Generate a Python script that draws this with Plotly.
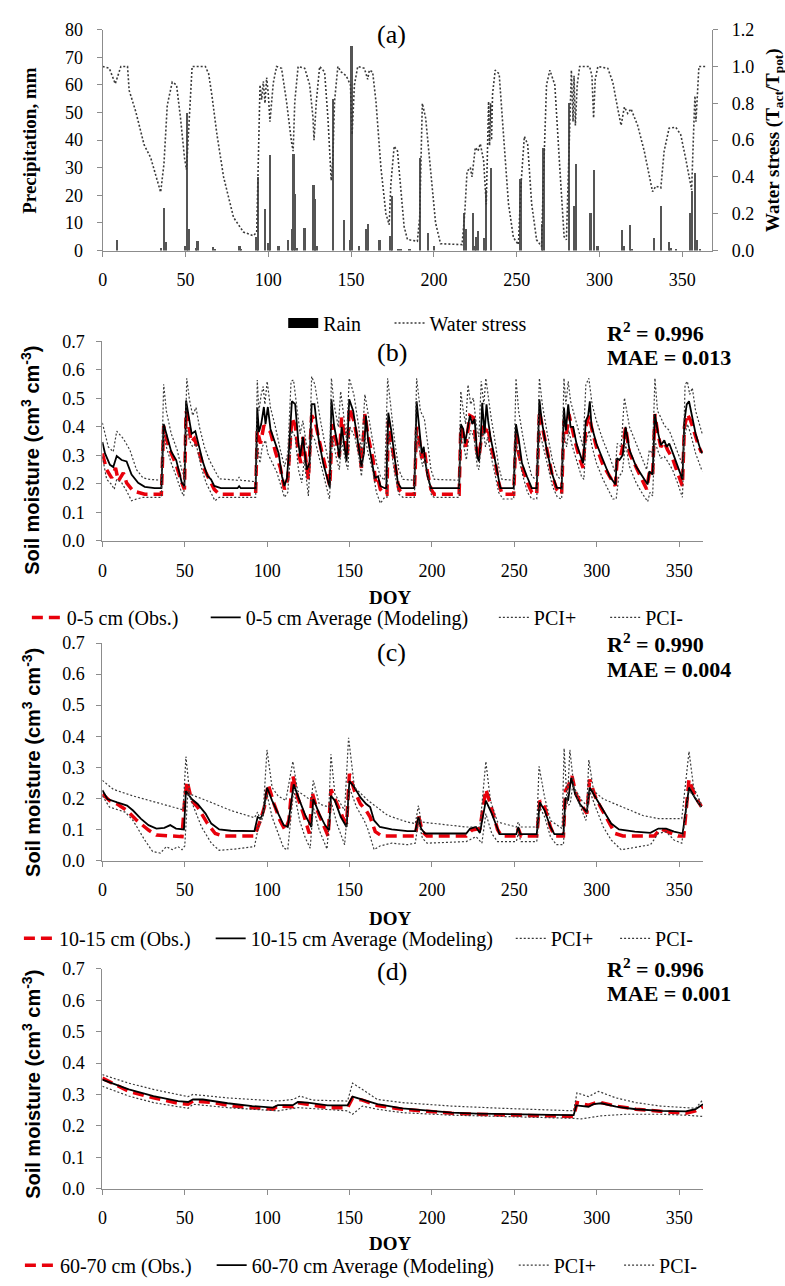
import plotly.graph_objects as go

W, H = 785, 1286

# ---------------- Panel (a) ----------------
rain_day = [8.6, 35, 37, 38, 49.5, 50.6, 51.6, 56, 57, 66.6, 67.6, 82.4, 83.4, 92.6, 93.6, 97.8, 100, 101,
            106, 111.6, 114, 115, 116, 117, 121.6, 127, 128, 129, 139, 145.4, 149, 150, 154.4, 159, 160,
            167, 173.6, 174.4, 178, 179.6, 185, 191.4, 196.2, 200, 218, 219, 223.4, 224.4, 225.4, 226.4,
            230.4, 231.4, 234.4, 252, 265, 266, 281.4, 284.4, 285.4, 294.4, 296.4, 298.6, 313.4, 314.4,
            318, 319, 332.6, 337, 341.6, 342.6, 346, 354.4, 355.6, 357.6, 358.6, 360.6]
rain_mm = [4.1, 1.0, 15.5, 3.2, 1.6, 50, 7.9, 1.0, 3.5, 1.5, 0.8, 1.6, 0.8, 5.0, 26.8, 15.1, 2.8, 34.6,
           1.9, 4.1, 8.0, 35.1, 20.6, 1.0, 8.2, 23.9, 18.7, 1.9, 54.9, 11.3, 4.1, 74.1, 1.6, 8.0, 9.8,
           4.1, 5.3, 20.0, 0.5, 0.5, 0.8, 33.7, 6.3, 1.8, 13.7, 8.0, 13.7, 1.8, 4.9, 7.2,
           4.6, 22, 30.1, 26.2, 9.6, 37.3, 53.5, 16.4, 31.5, 13.7, 29.3, 1.9, 7.7, 1.9,
           9.2, 0.8, 4.7, 16.4, 3.3, 1.0, 0.7, 13.6, 21.7, 28.3, 4.1, 0.7]

ws_day = [0, 4, 7.6, 11, 15, 16, 20, 25, 29, 35, 37, 39, 42, 44.6, 47, 49.4, 50.6, 52, 54, 62, 64, 66, 69,
          73, 79, 85, 91, 93, 95, 96, 97, 98, 99, 100, 101, 103, 105, 108, 111, 114, 115, 116, 118, 122,
          125, 127, 127.6, 129, 131, 134, 136, 138, 139, 140, 142, 144, 147, 149.6, 150.6, 152, 154, 158,
          160, 161, 163, 165, 168, 171, 173, 174, 176, 178, 180, 182, 184, 190, 191.4, 193, 195, 198, 201,
          204, 217, 218.6, 220, 222, 223, 225, 226.6, 228, 230, 231.6, 233, 233.6, 234.2, 234.8, 235.4,
          237, 239.4, 242, 245, 248, 251, 252.6, 254.6, 256.6, 259, 262, 265, 266, 268, 270, 273, 276,
          278.6, 280, 281, 282, 283, 284, 284.6, 285.4, 286.5, 288, 294, 295.4, 296.4, 297.4, 299, 305,
          308, 311, 313, 315, 317, 319, 323, 327, 330, 332, 334, 337, 339, 342, 346, 349, 352, 354,
          355.6, 357, 357.6, 358.2, 358.8, 360, 364]
ws_val = [1.0, 0.99, 0.906, 1.0, 1.0, 0.87, 0.754, 0.575, 0.504, 0.317, 0.47, 0.79, 0.915, 0.9, 0.72,
          0.504, 0.44, 0.66, 1.0, 1.0, 0.96, 0.84, 0.63, 0.40, 0.18, 0.10, 0.08, 0.10, 0.90, 0.82, 0.92,
          0.80, 0.94, 0.85, 0.70, 0.91, 1.0, 0.99, 0.81, 0.59, 0.54, 0.81, 1.0, 0.99, 0.9, 0.72, 0.6,
          0.81, 1.0, 0.97, 0.72, 0.38, 0.50, 0.81, 1.0, 0.97, 0.95, 0.9, 0.63, 0.9, 1.0, 0.99, 0.93,
          0.98, 0.97, 0.81, 0.45, 0.20, 0.14, 0.36, 0.567, 0.54, 0.33, 0.13, 0.06, 0.05, 0.18, 0.80,
          0.72, 0.45, 0.15, 0.037, 0.032, 0.20, 0.43, 0.45, 0.40, 0.56, 0.54, 0.58, 0.49, 0.25, 0.81,
          0.57, 0.80, 0.6, 0.85, 0.98, 0.96, 0.63, 0.255, 0.07, 0.032, 0.36, 0.62, 0.577, 0.255, 0.058,
          0.022, 0.36, 0.9, 0.98, 0.9, 0.45, 0.075, 0.058, 0.36, 0.72, 0.98, 0.70, 0.95, 0.68, 0.9, 1.0,
          1.0, 0.95, 0.72, 0.93, 1.0, 0.99, 0.915, 0.77, 0.68, 0.78, 0.745, 0.77, 0.68, 0.54, 0.40,
          0.32, 0.35, 0.34, 0.54, 0.665, 0.67, 0.63, 0.50, 0.40, 0.33, 0.70, 0.84, 0.70, 0.82, 1.0, 1.0]

# ---------------- Panel (b) 0-5 cm ----------------
b_mod_day = [0, 1.6, 4.6, 6.6, 8.7, 11.7, 14.7, 17.7, 21.7, 25.7, 31.7, 35.8, 37.2, 38.8, 41.8, 44.8,
             48.2, 49.8, 50.8, 52.8, 54.2, 56.4, 57.8, 60.9, 63.9, 65.9, 67.9, 71.9, 82, 83, 84, 93, 94,
             95, 96.4, 98, 99, 100.4, 102, 105, 107, 109, 110.5, 112, 113, 115, 117, 119, 120, 121.7,
             124, 125.7, 127, 128.7, 131, 134, 137, 138, 139, 140.6, 142.6, 143.8, 145.2, 146.6, 148.2,
             149.8, 152.2, 155.2, 157.2, 158.7, 159.9, 161.3, 163.3, 165.3, 167.3, 168.7, 171.3, 172.3,
             173.5, 175.3, 177.3, 179.3, 181.3, 189.3, 190.7, 192.4, 193.8, 195, 195.8, 197.4, 199.4,
             216.5, 217.5, 219, 220, 221.5, 223, 224.5, 225.9, 227.5, 228.5, 229.5, 230.5, 231.9, 233.1,
             234.1, 235.5, 237.5, 239.5, 241.5, 249.6, 251, 252.6, 254.6, 257.6, 260.6, 263.6, 265.2,
             266.6, 269.7, 272.7, 275.7, 278.7, 280.1, 281.3, 282.7, 284.1, 285.7, 287.7, 289.7, 291.7,
             293.4, 294.8, 295.8, 296.8, 299.8, 303.8, 307.8, 311.4, 312.2, 313.8, 315.8, 317.5, 319.9,
             323.9, 327.9, 330.9, 331.9, 333.9, 335.3, 336.9, 338.9, 341, 342.4, 344, 347, 350, 352,
             353.2, 354.6, 356, 358, 360, 363, 364]
b_mod = [0.347, 0.307, 0.267, 0.259, 0.298, 0.284, 0.279, 0.233, 0.204, 0.19, 0.185, 0.185, 0.41, 0.376,
         0.313, 0.284, 0.204, 0.193, 0.493, 0.422, 0.376, 0.385, 0.353, 0.279, 0.227, 0.216, 0.193, 0.185,
         0.185, 0.192, 0.185, 0.185, 0.468, 0.382, 0.41, 0.47, 0.41, 0.47, 0.393, 0.342, 0.307, 0.227,
         0.193, 0.221, 0.296, 0.49, 0.48, 0.342, 0.296, 0.365, 0.25, 0.273, 0.48, 0.48, 0.365, 0.273,
         0.204, 0.187, 0.497, 0.405, 0.342, 0.29, 0.4, 0.342, 0.279, 0.497, 0.456, 0.342, 0.261, 0.307,
         0.44, 0.353, 0.284, 0.221, 0.227, 0.193, 0.185, 0.185, 0.45, 0.388, 0.296, 0.204, 0.185, 0.185,
         0.49, 0.4, 0.307, 0.33, 0.284, 0.227, 0.185, 0.185, 0.41, 0.393, 0.342, 0.388, 0.44, 0.41, 0.428,
         0.296, 0.279, 0.342, 0.485, 0.376, 0.479, 0.422, 0.365, 0.307, 0.25, 0.185, 0.185, 0.41, 0.359,
         0.273, 0.227, 0.185, 0.185, 0.497, 0.422, 0.319, 0.239, 0.187, 0.185, 0.468, 0.388, 0.479, 0.4,
         0.4, 0.342, 0.307, 0.273, 0.422, 0.44, 0.49, 0.405, 0.342, 0.284, 0.227, 0.198, 0.29, 0.284,
         0.302, 0.4, 0.319, 0.261, 0.227, 0.198, 0.244, 0.233, 0.445, 0.388, 0.336, 0.353, 0.33, 0.342,
         0.296, 0.25, 0.216, 0.422, 0.479, 0.49, 0.433, 0.376, 0.319, 0.307]

b_obs_day = [0, 2.6, 5.6, 8, 9.7, 12.7, 14.7, 18.7, 25.7, 35.8, 37.2, 38.8, 41.8, 44.8, 48.2, 49.8, 50.8,
             52.2, 53.8, 55.8, 58.9, 61.9, 64.9, 67.9, 70.9, 93, 94, 96, 98, 100, 102, 105, 108, 110.5,
             112.5, 115, 117, 119, 120.5, 121.7, 125, 127, 129, 132, 135, 138, 139.6, 141.8, 143.8,
             145.2, 147.2, 148.6, 149.8, 152.6, 155.6, 157.2, 159.3, 161.3, 164.3, 165.9, 167.3, 168.7,
             171.3, 172.7, 173.5, 175.3, 177.3, 179.9, 182.4, 189.3, 190.7, 192.4, 193.8, 195.4, 197,
             199.4, 201.4, 216.5, 217.5, 219, 220.5, 221.9, 223, 225.1, 227.1, 228.5, 229.9, 231.1,
             232.5, 233.9, 235.9, 238.5, 240.5, 242.5, 249.6, 251, 252.6, 255.2, 258, 260.6, 263.6,
             265.2, 267, 270, 273.1, 275.7, 278.7, 280.1, 281.7, 283.1, 284.7, 286.7, 289.3, 291.7,
             293.4, 295.4, 297.2, 299.8, 303.8, 307.8, 311.2, 312.4, 314.2, 316.2, 317.5, 319.9, 323.9,
             327.5, 330.3, 331.9, 333.9, 335.3, 336.9, 338.9, 341, 343, 346, 349, 352, 353.2, 355, 357,
             359, 362, 363.6]
b_obs = [0.307, 0.25, 0.221, 0.256, 0.21, 0.239, 0.204, 0.175, 0.164, 0.164, 0.404, 0.358, 0.307, 0.267,
         0.204, 0.181, 0.456, 0.422, 0.347, 0.359, 0.307, 0.25, 0.216, 0.181, 0.164, 0.164, 0.388, 0.342,
         0.405, 0.393, 0.382, 0.313, 0.256, 0.181, 0.216, 0.433, 0.405, 0.307, 0.273, 0.365, 0.216, 0.44,
         0.422, 0.342, 0.261, 0.193, 0.41, 0.342, 0.296, 0.433, 0.342, 0.296, 0.468, 0.422, 0.33, 0.256,
         0.445, 0.365, 0.284, 0.204, 0.216, 0.181, 0.164, 0.164, 0.422, 0.353, 0.273, 0.181, 0.164,
         0.164, 0.4, 0.353, 0.29, 0.319, 0.25, 0.181, 0.164, 0.164, 0.4, 0.376, 0.33, 0.382, 0.44, 0.433,
         0.319, 0.29, 0.365, 0.416, 0.382, 0.4, 0.33, 0.273, 0.204, 0.164, 0.164, 0.376, 0.307, 0.25,
         0.204, 0.17, 0.164, 0.456, 0.4, 0.307, 0.227, 0.181, 0.164, 0.422, 0.376, 0.445, 0.4, 0.353,
         0.296, 0.256, 0.4, 0.44, 0.388, 0.33, 0.267, 0.227, 0.193, 0.284, 0.29, 0.342, 0.4, 0.307,
         0.256, 0.216, 0.181, 0.239, 0.227, 0.445, 0.382, 0.33, 0.347, 0.319, 0.29, 0.239, 0.193, 0.4,
         0.445, 0.422, 0.382, 0.33, 0.31]

b_pp_day = [0, 3.6, 6.6, 8.7, 12.7, 16.7, 20.7, 24.7, 28.7, 35.8, 37.2, 38.8, 41.8, 45.4, 48.2, 49.8,
            51.2, 52.8, 54.8, 56.8, 58.9, 61.9, 64.9, 67.9, 70.9, 82, 83, 84, 93, 94, 95, 96.4, 97.6,
            98.6, 100, 102, 105, 108, 110.5, 112.5, 114.5, 116, 119, 120, 121.7, 124, 125.7, 127, 129,
            132, 135, 137.8, 139, 140.6, 143.2, 144.6, 146.6, 148.2, 149.8, 152.6, 155.6, 157.2, 159.3,
            161.3, 164.3, 166.3, 168.7, 171.3, 173.1, 175.3, 177.3, 179.9, 182.4, 189.3, 190.7, 193,
            195.4, 197.4, 199.4, 201.4, 216.5, 217.5, 219, 220.5, 221.9, 223.5, 225.1, 227.1, 228.5,
            229.9, 231.5, 232.7, 234.1, 235.9, 238.5, 240.5, 242.5, 249.6, 251, 252.6, 255.2, 258,
            260.6, 263.6, 265.2, 267, 270, 273.1, 276.1, 278.7, 280.1, 281.3, 282.7, 284.1, 285.7,
            288.7, 291.7, 293.4, 295.2, 297.2, 299.8, 303.8, 307.8, 311.2, 312.4, 314.8, 316.8, 319.9,
            323.9, 327.9, 330.3, 331.9, 333.9, 335.3, 336.9, 338.9, 341, 344, 347, 350, 352.4, 353.6,
            355, 356.4, 358, 360, 364]
b_pp = [0.414, 0.33, 0.313, 0.385, 0.359, 0.319, 0.25, 0.221, 0.216, 0.213, 0.55, 0.456, 0.376, 0.319,
        0.25, 0.221, 0.571, 0.497, 0.44, 0.468, 0.4, 0.33, 0.284, 0.25, 0.218, 0.213, 0.224, 0.213, 0.208,
        0.565, 0.456, 0.514, 0.542, 0.479, 0.56, 0.468, 0.4, 0.319, 0.261, 0.307, 0.56, 0.565, 0.433,
        0.376, 0.422, 0.33, 0.319, 0.577, 0.548, 0.433, 0.342, 0.261, 0.571, 0.479, 0.4, 0.525, 0.433,
        0.353, 0.571, 0.514, 0.4, 0.307, 0.514, 0.445, 0.353, 0.273, 0.227, 0.213, 0.571, 0.456, 0.353,
        0.25, 0.216, 0.213, 0.571, 0.456, 0.428, 0.342, 0.25, 0.216, 0.213, 0.525, 0.456, 0.41, 0.548,
        0.479, 0.502, 0.4, 0.365, 0.56, 0.479, 0.571, 0.502, 0.433, 0.342, 0.261, 0.216, 0.213, 0.571,
        0.456, 0.365, 0.284, 0.227, 0.213, 0.571, 0.479, 0.376, 0.284, 0.227, 0.213, 0.571, 0.479, 0.56,
        0.491, 0.456, 0.388, 0.33, 0.548, 0.571, 0.479, 0.422, 0.353, 0.296, 0.239, 0.342, 0.33, 0.502,
        0.4, 0.342, 0.284, 0.25, 0.319, 0.307, 0.571, 0.456, 0.433, 0.405, 0.388, 0.342, 0.296, 0.261,
        0.548, 0.56, 0.514, 0.537, 0.456, 0.376]

b_pm_day = [0, 2.6, 5.6, 7.2, 8.7, 11.7, 14.7, 17.7, 20.7, 24.7, 35.8, 37.2, 38.8, 41.8, 44.8, 47.8,
            49.4, 50.8, 52.8, 54.8, 56.8, 59.9, 62.9, 65.9, 68.3, 70.9, 93, 94, 95.6, 97, 99, 100.4, 103,
            106, 109, 110.5, 112.5, 115, 117, 119, 121, 122.5, 125, 127, 129, 132, 135, 137.8, 139.6,
            141.8, 143.8, 145.2, 147.8, 149, 150.2, 153.2, 155.6, 157.2, 159.3, 161.3, 164.3, 166.3,
            168.7, 171.3, 172.7, 173.5, 175.3, 177.3, 179.9, 182.4, 189.3, 190.7, 192.4, 194.4, 195.8,
            197.8, 199.8, 201.4, 216.5, 217.5, 219, 220.9, 221.9, 223.5, 225.5, 227.5, 228.5, 229.9,
            231.1, 232.5, 233.9, 235.9, 238.5, 240.5, 243.1, 249.6, 251, 252.6, 255.2, 258, 260.6,
            263.6, 265.2, 267, 270, 273.1, 276.1, 278.7, 280.1, 281.7, 283.1, 284.7, 287.7, 290.7,
            292.2, 293.4, 295.4, 297.2, 299.8, 303.8, 307.8, 309.8, 311.8, 313.4, 315.4, 317.5, 319.9,
            323.9, 327.9, 330.9, 332.3, 333.9, 335.3, 336.9, 338.9, 341, 343, 346, 349, 352, 353.2, 355,
            357, 360, 364]
b_pm = [0.296, 0.216, 0.198, 0.181, 0.216, 0.204, 0.175, 0.141, 0.147, 0.153, 0.153, 0.376, 0.33, 0.273,
        0.227, 0.175, 0.158, 0.4, 0.353, 0.33, 0.342, 0.261, 0.204, 0.17, 0.141, 0.153, 0.153, 0.342,
        0.273, 0.33, 0.353, 0.307, 0.273, 0.239, 0.181, 0.153, 0.17, 0.388, 0.365, 0.25, 0.204, 0.284,
        0.158, 0.376, 0.353, 0.284, 0.216, 0.147, 0.365, 0.296, 0.25, 0.353, 0.273, 0.25, 0.4, 0.365,
        0.296, 0.227, 0.365, 0.307, 0.239, 0.17, 0.132, 0.153, 0.153, 0.388, 0.319, 0.239, 0.164, 0.153,
        0.153, 0.388, 0.319, 0.261, 0.296, 0.216, 0.158, 0.153, 0.153, 0.365, 0.342, 0.284, 0.342, 0.388,
        0.365, 0.261, 0.25, 0.342, 0.388, 0.33, 0.365, 0.296, 0.227, 0.17, 0.147, 0.147, 0.353, 0.296,
        0.227, 0.17, 0.147, 0.147, 0.388, 0.342, 0.261, 0.193, 0.153, 0.147, 0.376, 0.33, 0.388, 0.342,
        0.284, 0.227, 0.216, 0.342, 0.388, 0.33, 0.273, 0.216, 0.17, 0.147, 0.147, 0.227, 0.239, 0.342,
        0.261, 0.204, 0.164, 0.138, 0.17, 0.158, 0.353, 0.319, 0.29, 0.296, 0.279, 0.25, 0.204, 0.153,
        0.365, 0.41, 0.376, 0.307, 0.244]

# ---------------- Panel (c) 10-15 cm ----------------
c_mod_day = [0, 3.1, 9, 15, 18.6, 23.3, 28, 32.8, 37.6, 41.2, 44.7, 49.5, 50.7, 54.2, 57.8, 62.6, 66.1,
             70.9, 78, 92.3, 94.2, 95.9, 97.5, 99.9, 103, 106.6, 110, 112.5, 116.1, 119.7, 123.2, 126.8,
             128, 131.6, 135.1, 137.5, 138.7, 141.1, 144.7, 148.2, 149.9, 153, 156.6, 160.1, 162.5,
             164.9, 168.4, 175.6, 185.1, 189.9, 191.8, 193.4, 195.8, 220.8, 223.2, 226.7, 229.1, 232.7,
             236.3, 239.8, 241, 251.2, 252.4, 253.6, 263.6, 265.5, 268.4, 271.9, 274.3, 279.8, 281,
             282.6, 284.5, 286.9, 289.8, 294, 295.7, 299.3, 304, 308.8, 313.5, 323.1, 332.6, 337.4,
             342.1, 346.9, 352.1, 356, 360, 363.5]
c_mod = [0.226, 0.198, 0.187, 0.177, 0.161, 0.135, 0.114, 0.103, 0.105, 0.114, 0.103, 0.1, 0.224, 0.198,
         0.182, 0.151, 0.119, 0.1, 0.096, 0.095, 0.14, 0.135, 0.151, 0.235, 0.193, 0.151, 0.114, 0.108,
         0.245, 0.193, 0.145, 0.108, 0.198, 0.151, 0.114, 0.098, 0.208, 0.193, 0.14, 0.108, 0.256, 0.235,
         0.203, 0.182, 0.172, 0.129, 0.108, 0.1, 0.095, 0.095, 0.14, 0.103, 0.087, 0.087, 0.103, 0.108,
         0.089, 0.193, 0.151, 0.103, 0.085, 0.085, 0.108, 0.085, 0.085, 0.187, 0.161, 0.108, 0.085, 0.085,
         0.203, 0.193, 0.266, 0.214, 0.182, 0.156, 0.235, 0.203, 0.161, 0.119, 0.1, 0.093, 0.089, 0.103,
         0.103, 0.093, 0.087, 0.235, 0.198, 0.172]

c_obs_day = [0, 4.3, 9, 15, 20.9, 28, 32.8, 48.3, 50, 51.4, 54.2, 57.8, 63.8, 68.5, 73.3, 92.3, 95.9,
             98.3, 100.6, 104.2, 107.8, 110.9, 113.2, 115.6, 118.5, 122, 125.6, 127.3, 130.4, 134, 137,
             138.7, 142.3, 145.8, 148.2, 149.9, 153, 156.6, 160.1, 162.5, 165.6, 169.6, 189.9, 191.8,
             194.2, 197, 220.8, 224.3, 229.1, 232.7, 235.5, 239.8, 242.2, 251.2, 252.4, 254.1, 263.6,
             265.5, 268.4, 271.9, 274.3, 279.8, 281, 283.1, 285, 287.4, 291, 294, 295.7, 299.3, 302.9,
             307.6, 311.2, 315.9, 335, 338.6, 343.3, 349.3, 352.8, 356, 360, 363.5]
c_obs = [0.214, 0.193, 0.182, 0.161, 0.129, 0.098, 0.082, 0.077, 0.198, 0.256, 0.193, 0.172, 0.119, 0.087,
         0.079, 0.079, 0.129, 0.172, 0.245, 0.182, 0.129, 0.098, 0.129, 0.272, 0.203, 0.151, 0.087, 0.219,
         0.161, 0.114, 0.079, 0.229, 0.182, 0.14, 0.119, 0.279, 0.224, 0.182, 0.161, 0.14, 0.093, 0.079,
         0.079, 0.145, 0.093, 0.079, 0.079, 0.098, 0.103, 0.229, 0.182, 0.1, 0.079, 0.079, 0.103, 0.079,
         0.079, 0.193, 0.172, 0.108, 0.079, 0.079, 0.224, 0.245, 0.272, 0.214, 0.177, 0.151, 0.261, 0.203,
         0.166, 0.119, 0.087, 0.079, 0.079, 0.103, 0.093, 0.079, 0.079, 0.261, 0.203, 0.174]

c_pp_day = [0, 6.7, 18.6, 30.5, 42.4, 49, 50.7, 53, 66.1, 78, 92.3, 94.2, 95.9, 97.5, 99.9, 103, 106.6,
            111.3, 115.6, 118.5, 126.8, 128, 131.6, 137.5, 138.7, 141.1, 147, 149.4, 153, 161.3, 173.2,
            185.1, 189.9, 191.8, 193.4, 208.9, 220.8, 229.1, 232.7, 235.5, 239.8, 251.2, 252.4, 253.6,
            263.6, 265, 268.4, 271.9, 279, 280.2, 282.1, 283.7, 286.2, 291, 294, 295.2, 298.1, 304,
            315.9, 327.9, 337.4, 351.6, 356, 358.8, 363.5]
c_pp = [0.258, 0.229, 0.208, 0.191, 0.174, 0.163, 0.335, 0.214, 0.187, 0.161, 0.138, 0.156, 0.129, 0.151,
        0.356, 0.235, 0.208, 0.193, 0.319, 0.224, 0.193, 0.258, 0.182, 0.172, 0.342, 0.214, 0.161, 0.395,
        0.235, 0.193, 0.145, 0.124, 0.119, 0.177, 0.124, 0.114, 0.108, 0.108, 0.319, 0.193, 0.124, 0.108,
        0.124, 0.108, 0.108, 0.303, 0.203, 0.129, 0.103, 0.361, 0.182, 0.356, 0.235, 0.193, 0.177, 0.324,
        0.224, 0.198, 0.172, 0.145, 0.135, 0.135, 0.351, 0.235, 0.182]

c_pm_day = [0, 4.3, 13.8, 18.6, 25.7, 30.5, 35.2, 38.8, 42.4, 45.9, 48.3, 50, 51.9, 55.4, 60.2, 66.1,
            70.9, 80.4, 92.3, 94.7, 97.5, 99.9, 103, 106.6, 110, 112.5, 116.1, 119.7, 123.2, 126.1, 128,
            131.6, 136.3, 138.7, 142.3, 147, 149.9, 154.2, 158.9, 161.3, 164.9, 168.4, 175.6, 185.1,
            189.9, 191.8, 194.2, 197, 220.8, 226.7, 230.3, 232.7, 236.3, 239.8, 251.2, 252.4, 254.1,
            263.6, 265.5, 268.4, 271.9, 275.5, 279.8, 281, 283.9, 285.5, 288.6, 293.4, 295.7, 299.3,
            304, 308.8, 314.8, 320.7, 332.6, 337.4, 342.1, 346.9, 351.6, 356, 360, 363.5]
c_pm = [0.208, 0.172, 0.156, 0.129, 0.066, 0.029, 0.024, 0.045, 0.035, 0.045, 0.035, 0.047, 0.224, 0.172,
        0.108, 0.056, 0.033, 0.037, 0.045, 0.108, 0.14, 0.214, 0.14, 0.087, 0.04, 0.035, 0.229, 0.129,
        0.072, 0.04, 0.172, 0.098, 0.037, 0.193, 0.119, 0.051, 0.235, 0.172, 0.129, 0.098, 0.035, 0.047,
        0.056, 0.051, 0.056, 0.129, 0.072, 0.056, 0.061, 0.077, 0.056, 0.151, 0.087, 0.061, 0.061, 0.087,
        0.061, 0.061, 0.172, 0.14, 0.077, 0.051, 0.051, 0.172, 0.182, 0.245, 0.193, 0.129, 0.224, 0.172,
        0.108, 0.066, 0.035, 0.04, 0.051, 0.087, 0.093, 0.066, 0.056, 0.224, 0.203, 0.17]

# ---------------- Panel (d) 60-70 cm ----------------
d_mod_day = [0, 16, 31, 46, 52, 55, 61, 76, 91, 103.5, 106.5, 115.6, 118.6, 124.6, 136.7, 148.8, 151.8,
             157.8, 166.9, 182, 197, 212, 227, 242.3, 272.5, 286, 287.6, 295, 298, 302.7, 311.7, 323.8,
             338.9, 354, 360, 364.5]
d_mod = [0.347, 0.316, 0.295, 0.279, 0.276, 0.284, 0.284, 0.272, 0.263, 0.258, 0.266, 0.266, 0.276, 0.274,
         0.265, 0.265, 0.293, 0.284, 0.269, 0.256, 0.248, 0.242, 0.239, 0.237, 0.235, 0.234, 0.265, 0.261,
         0.269, 0.272, 0.261, 0.253, 0.248, 0.246, 0.253, 0.269]

d_obs_day = [0, 16, 31, 46, 52, 55, 67.3, 79.4, 91, 103.5, 106.5, 115.6, 118.6, 127.6, 136.7, 148.8,
             151.8, 157.8, 166.9, 182, 197, 212, 227, 242.3, 272.5, 286, 288, 295, 301, 311.7, 323.8,
             338.9, 354, 360, 364.5]
d_obs = [0.352, 0.31, 0.289, 0.272, 0.269, 0.279, 0.274, 0.263, 0.258, 0.253, 0.263, 0.261, 0.274, 0.265,
         0.258, 0.258, 0.289, 0.282, 0.265, 0.253, 0.246, 0.24, 0.237, 0.235, 0.232, 0.23, 0.274, 0.266,
         0.276, 0.263, 0.253, 0.246, 0.24, 0.248, 0.261]

d_pp_day = [0, 16, 31, 46, 52, 55, 76, 106.5, 115.6, 120, 127.6, 148.8, 151.8, 157.8, 166.9, 182, 212,
            242.3, 272.5, 286, 288, 295, 301, 311.7, 323.8, 338.9, 360, 364.5]
d_pp = [0.363, 0.336, 0.316, 0.3, 0.293, 0.3, 0.289, 0.279, 0.284, 0.295, 0.282, 0.279, 0.336, 0.316,
        0.284, 0.274, 0.263, 0.256, 0.251, 0.248, 0.305, 0.293, 0.31, 0.289, 0.274, 0.263, 0.256, 0.284]

d_pm_day = [0, 16, 31, 46, 52, 55, 76, 106.5, 118.6, 148.8, 151.8, 157.8, 166.9, 182, 212, 242.3, 272.5,
            286, 290.6, 302.7, 317.8, 338.9, 354, 364.5]
d_pm = [0.326, 0.295, 0.274, 0.261, 0.256, 0.269, 0.258, 0.248, 0.258, 0.248, 0.237, 0.263, 0.253, 0.242,
        0.234, 0.23, 0.227, 0.224, 0.222, 0.232, 0.237, 0.237, 0.234, 0.23]

x_ticks = [0, 50, 100, 150, 200, 250, 300, 350]
stats = [("R<sup>2</sup> = 0.996", "MAE = 0.013"),
         ("R<sup>2</sup> = 0.990", "MAE = 0.004"),
         ("R<sup>2</sup> = 0.996", "MAE = 0.001")]
depths = ["0-5 cm", "10-15 cm", "60-70 cm"]

# ---------------- figure ----------------
SERIF = "Liberation Serif"
SANS = "Liberation Sans"
AX = "#8c8c8c"
RED = "#e8000b"
DOT = "#3a3a3a"
DOTDASH = "2px,2px"
REDDASH = "11px,6px"


def X(px):
    return px / W


def Y(py):
    return 1 - py / H


fig = go.Figure()

# Panel (a)
fig.add_trace(go.Bar(x=rain_day, y=rain_mm, width=1.4, marker=dict(color="#555555", line=dict(width=0)),
                     xaxis="x", yaxis="y", showlegend=False))
fig.add_trace(go.Scatter(x=[None], y=[None], mode="lines", name="Rain",
                         line=dict(color="black", width=11), xaxis="x", yaxis="y", legend="legend"))
fig.add_trace(go.Scatter(x=ws_day, y=ws_val, mode="lines", name="Water stress",
                         line=dict(color=DOT, width=1.6, dash=DOTDASH), xaxis="x", yaxis="y2",
                         legend="legend2"))

panels = [
    (b_obs_day, b_obs, b_mod_day, b_mod, b_pp_day, b_pp, b_pm_day, b_pm),
    (c_obs_day, c_obs, c_mod_day, c_mod, c_pp_day, c_pp, c_pm_day, c_pm),
    (d_obs_day, d_obs, d_mod_day, d_mod, d_pp_day, d_pp, d_pm_day, d_pm),
]
legend_y = [617, 943, 1275]
legend_text_x = [[70, 250, 540, 652], [62, 255, 557, 662], [63, 256, 560, 666]]
LEG_OFF = 48

legfont = dict(family=SERIF, size=20, color="black")
lg = 3
layout_legends = {}
for i, (od, ov, md, mv, pd_, pv, nd, nv) in enumerate(panels):
    xa = "x%d" % (i + 2)
    ya = "y%d" % (i + 3)
    names = [depths[i] + " (Obs.)", depths[i] + " Average (Modeling)", "PCI+", "PCI-"]
    specs = [
        (od, ov, dict(color=RED, width=3.5, dash=REDDASH)),
        (md, mv, dict(color="black", width=1.8)),
        (pd_, pv, dict(color=DOT, width=1.2, dash=DOTDASH)),
        (nd, nv, dict(color=DOT, width=1.2, dash=DOTDASH)),
    ]
    for j, (dx, dy, ln) in enumerate(specs):
        lname = "legend%d" % lg
        fig.add_trace(go.Scatter(x=dx, y=dy, mode="lines", name=names[j], line=ln,
                                 xaxis=xa, yaxis=ya, legend=lname))
        layout_legends[lname] = dict(x=X(legend_text_x[i][j] - LEG_OFF), y=Y(legend_y[i]), xanchor="left",
                                     yanchor="middle", orientation="h", bgcolor="rgba(0,0,0,0)",
                                     font=legfont, itemwidth=30)
        lg += 1

layout_legends["legend"] = dict(x=X(328 - LEG_OFF), y=Y(318), xanchor="left", yanchor="middle",
                                orientation="h", bgcolor="rgba(0,0,0,0)", font=legfont)
layout_legends["legend2"] = dict(x=X(435 - LEG_OFF), y=Y(318), xanchor="left", yanchor="middle",
                                 orientation="h", bgcolor="rgba(0,0,0,0)", font=legfont)

tickfont = dict(family=SERIF, size=18, color="black")
common_ax = dict(showline=True, linecolor=AX, linewidth=1, ticks="outside", tickcolor=AX, ticklen=5,
                 showgrid=False, zeroline=False, tickfont=tickfont)

layout = dict(
    width=W, height=H, margin=dict(l=0, r=0, t=0, b=0), plot_bgcolor="white", paper_bgcolor="white",
    font=dict(family=SERIF, color="black"), bargap=0, showlegend=True,
    xaxis=dict(domain=[X(98.3), X(711.7)], range=[0, 368], tickvals=x_ticks, anchor="y",
               ticklabelstandoff=8, **common_ax),
    yaxis=dict(domain=[Y(244.3), Y(20)], range=[0, 80], dtick=10, anchor="x", ticklabelstandoff=10,
               **common_ax),
    yaxis2=dict(domain=[Y(244.3), Y(20)], range=[0, 1.2], dtick=0.2, tickformat=".1f", overlaying="y",
                side="right", anchor="x", ticklabelstandoff=10, **common_ax),
)
ydoms = [(336.7, 539.3), (643, 864), (974, 1197.3)]
for i in range(3):
    layout["xaxis%d" % (i + 2)] = dict(domain=[X(98), X(702.5)], range=[0, 364.5], tickvals=x_ticks,
                                       anchor="y%d" % (i + 3), ticklabelstandoff=8, **common_ax)
    layout["yaxis%d" % (i + 3)] = dict(domain=[Y(ydoms[i][1]), Y(ydoms[i][0])], range=[0, 0.7], dtick=0.1,
                                       tickformat=".1f", anchor="x%d" % (i + 2), ticklabelstandoff=8,
                                       **common_ax)
layout.update(layout_legends)

ann = []
ann.append(dict(text="<b>Precipitation, mm</b>", x=X(25), y=Y(132), textangle=-90,
                font=dict(family=SERIF, size=19)))
ann.append(dict(text="<b>Water stress (T<sub>act</sub>/T<sub>pot</sub>)</b>", x=X(774), y=Y(132),
                textangle=-90, font=dict(family=SERIF, size=19)))
ann.append(dict(text="(a)", x=X(389), y=Y(25), font=dict(family=SERIF, size=26)))

labels = ["(b)", "(c)", "(d)"]
lab_y = [348, 653, 977]
title_y = [457, 764, 1091]
doy_y = [597, 923, 1253]
r2_y = [[327, 353], [643, 670], [973, 999]]
for i in range(3):
    ann.append(dict(text="<b>Soil moisture (cm<sup>3</sup> cm<sup>-3</sup>)</b>", x=X(26), y=Y(title_y[i]),
                    textangle=-90, font=dict(family=SANS, size=20)))
    ann.append(dict(text=labels[i], x=X(389), y=Y(lab_y[i]), font=dict(family=SERIF, size=26)))
    ann.append(dict(text="<b>DOY</b>", x=X(388), y=Y(doy_y[i]), font=dict(family=SERIF, size=19)))
    ann.append(dict(text="<b>%s</b>" % stats[i][0], x=X(604), y=Y(r2_y[i][0]), xanchor="left",
                    font=dict(family=SERIF, size=22)))
    ann.append(dict(text="<b>%s</b>" % stats[i][1], x=X(604), y=Y(r2_y[i][1]), xanchor="left",
                    font=dict(family=SERIF, size=22)))

for a in ann:
    a["xref"] = "paper"
    a["yref"] = "paper"
    a["showarrow"] = False
    a.setdefault("xanchor", "center")
    a.setdefault("yanchor", "middle")
layout["annotations"] = ann

fig.update_layout(**layout)
fig.write_html("out.html", config={"displayModeBar": False},
               post_script="document.body.style.margin='0px';document.body.style.overflow='hidden';")
